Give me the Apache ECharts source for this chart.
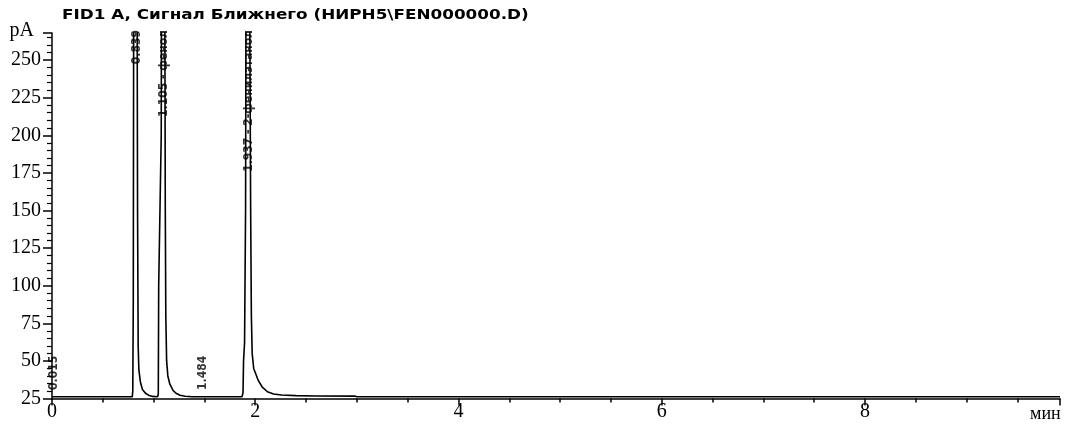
<!DOCTYPE html>
<html>
<head>
<meta charset="utf-8">
<script src="https://cdn.jsdelivr.net/npm/echarts@6/dist/echarts.min.js"></script>
<style>html,body{margin:0;padding:0;background:#fff}#c{width:1066px;height:425px}</style>
</head>
<body>
<div id="c"></div>
<script>
// Chromatogram signal, [time (min), signal (pA)]
const signal = [
  [0.00, 26.2], [0.79, 26.2],
  [0.795, 30], [0.80, 90], [0.805, 350], [0.82, 1000], [0.836, 350], [0.842, 150],
  [0.848, 60], [0.855, 44], [0.87, 36], [0.89, 31], [0.92, 28.5], [0.95, 27.2], [0.99, 26.4],
  [1.04, 26.2],
  [1.046, 28], [1.05, 100], [1.075, 200], [1.095, 1000], [1.11, 300], [1.115, 150],
  [1.12, 80], [1.128, 50], [1.14, 40], [1.16, 34.5], [1.19, 30.5], [1.22, 28.5], [1.26, 27.2],
  [1.31, 26.5], [1.38, 26.2],
  [1.87, 26.2],
  [1.88, 29], [1.885, 50], [1.895, 62], [1.905, 150], [1.93, 1000], [1.945, 300],
  [1.955, 150], [1.962, 80], [1.97, 55], [1.985, 45], [2.03, 37], [2.07, 32.5], [2.12, 29.5],
  [2.18, 28], [2.26, 27.3], [2.40, 26.9], [2.60, 26.7], [2.98, 26.6], [3.00, 26.2],
  [9.92, 26.2]
];
// Peak annotations
const peakTimes = [0.015, 0.839, 1.105, 1.484, 1.937];
const peakNames = ['', '', 'фенол', '', '2-фенилэтанол'];
// Axis ticks
const xTicks = [0, 2, 4, 6, 8];
const yTicks = [25, 50, 75, 100, 125, 150, 175, 200, 225, 250];

const X_MAX = 9.92, Y_MIN = 25, Y_MAX = 268;

function peakHeight(t) {
  let m = 0;
  signal.forEach(p => { if (Math.abs(p[0] - t) <= 0.03 && p[1] > m) m = p[1]; });
  return m;
}

const labelData = peakTimes.map((t, i) => {
  const top = peakHeight(t) > Y_MAX;
  const txt = t.toFixed(3) + (peakNames[i] ? ' - ' + peakNames[i] : '');
  return {
    value: [t, top ? 270 : 30.7],
    label: {
      show: true, formatter: txt, rotate: 90, position: 'inside',
      align: top ? 'right' : 'left', verticalAlign: 'middle',
      offset: [0, top ? 0 : 0],
      fontFamily: 'DejaVu Sans Condensed', fontWeight: 'bold', fontSize: 12, color: '#000'
    }
  };
});

const chart = echarts.init(document.getElementById('c'), null, {renderer: 'canvas'});
chart.setOption({
  animation: false,
  backgroundColor: '#fff',
  graphic: [{
    type: 'text', left: 62, top: 8, scaleX: 1.2, silent: true,
    style: {
      text: 'FID1 A, Сигнал Ближнего (НИРН5\\FEN000000.D)',
      font: 'bold 14px "DejaVu Sans"', fill: '#000'
    }
  }],
  grid: {left: 52, right: 6, top: 33, bottom: 26.5, containLabel: false},
  xAxis: {
    type: 'value', min: 0, max: X_MAX, interval: 2,
    name: 'мин', nameLocation: 'end', nameGap: -30,
    nameTextStyle: {fontFamily: 'Liberation Serif', fontSize: 18, color: '#000', verticalAlign: 'top', padding: [7, 0, 0, 0]},
    axisLine: {lineStyle: {color: '#000', width: 1.5}},
    axisTick: {length: 7, lineStyle: {color: '#000', width: 1.5}},
    minorTick: {show: true, splitNumber: 4, length: 4, lineStyle: {color: '#000', width: 1.5}},
    splitLine: {show: false},
    axisLabel: {
      fontFamily: 'Liberation Serif', fontSize: 20, color: '#000', margin: 3,
      customValues: xTicks, formatter: v => String(v)
    }
  },
  yAxis: {
    type: 'value', min: Y_MIN, max: Y_MAX, interval: 25,
    name: 'pA', nameLocation: 'end', nameGap: 2,
    nameTextStyle: {fontFamily: 'Liberation Serif', fontSize: 20, color: '#000', align: 'right', verticalAlign: 'middle', padding: [0, 18, 0, 0]},
    axisLine: {show: true, lineStyle: {color: '#000', width: 1.5}},
    axisTick: {show: true, length: 9, lineStyle: {color: '#000', width: 1.5}},
    minorTick: {show: true, splitNumber: 5, length: 5, lineStyle: {color: '#000', width: 1.2}},
    splitLine: {show: false},
    axisLabel: {
      fontFamily: 'Liberation Serif', fontSize: 20, color: '#000', margin: 11,
      formatter: v => yTicks.indexOf(v) >= 0 ? String(v) : ''
    }
  },
  series: [
    {
      type: 'line', data: signal, showSymbol: false, symbol: 'none', clip: true,
      lineStyle: {color: '#000', width: 1.6}
    },
    {
      type: 'scatter', data: labelData, symbolSize: 0, clip: false, silent: true, z: 5
    }
  ]
});
</script>
</body>
</html>
